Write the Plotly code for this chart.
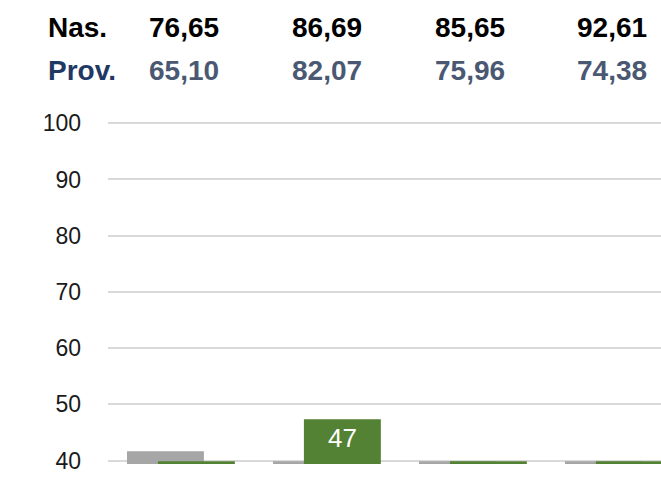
import plotly.graph_objects as go

# ---- data ----
categories = [0, 1, 2, 3]
gray_values = [41.66, 39.9, 39.9, 39.9]
green_values = [39.9, 47.35, 39.9, 39.9]
green_labels = ["", "47", "", ""]
nas_label = "Nas."
prov_label = "Prov."
nas_values = ["76,65", "86,69", "85,65", "92,61"]
prov_values = ["65,10", "82,07", "75,96", "74,38"]
y_ticks = [40, 50, 60, 70, 80, 90, 100]

# ---- layout constants ----
W, H = 661, 477
ML, MR, MT, MB = 108, 0, 121, 13
PW, PH = W - ML - MR, H - MT - MB
col_px = [184, 327, 470, 612]
row_px = [27, 71]
label_px = 46
FONT = "Liberation Sans, Arial, sans-serif"
Y_MIN, Y_MAX = 39.4, 100.4
BAR_W = 0.527
GRAY_OFF, GREEN_OFF = -0.370, -0.158


def px_x(px):
    return (px - ML) / PW


def px_y(py):
    return 1 + (MT - py) / PH


fig = go.Figure()
fig.add_trace(go.Bar(
    x=categories, y=gray_values, width=BAR_W, offset=GRAY_OFF,
    marker=dict(color="#A6A6A6", line=dict(width=0)),
    hoverinfo="skip", showlegend=False,
))
fig.add_trace(go.Bar(
    x=categories, y=green_values, width=BAR_W, offset=GREEN_OFF,
    marker=dict(color="#548235", line=dict(width=0)),
    hoverinfo="skip", showlegend=False,
))

annotations = []
# value labels inside green bars
for c, v, lab in zip(categories, green_values, green_labels):
    if lab:
        annotations.append(dict(text=lab, x=c + GREEN_OFF + BAR_W / 2, y=(40 + v) / 2 + 0.3,
                                xref="x", yref="y", xanchor="center", yanchor="middle",
                                showarrow=False, font=dict(size=26, color="white", family=FONT)))

annotations.append(dict(text=f"<b>{nas_label}</b>", x=px_x(label_px), y=px_y(row_px[0]),
                        xref="paper", yref="paper", xanchor="left", yanchor="middle",
                        showarrow=False, font=dict(size=28, color="#000000", family=FONT)))
annotations.append(dict(text=f"<b>{prov_label}</b>", x=px_x(label_px), y=px_y(row_px[1]),
                        xref="paper", yref="paper", xanchor="left", yanchor="middle",
                        showarrow=False, font=dict(size=28, color="#1F3864", family=FONT)))
for cx, nv, pv in zip(col_px, nas_values, prov_values):
    annotations.append(dict(text=f"<b>{nv}</b>", x=px_x(cx), y=px_y(row_px[0]),
                            xref="paper", yref="paper", xanchor="center", yanchor="middle",
                            showarrow=False, font=dict(size=28, color="#000000", family=FONT)))
    annotations.append(dict(text=f"<b>{pv}</b>", x=px_x(cx), y=px_y(row_px[1]),
                            xref="paper", yref="paper", xanchor="center", yanchor="middle",
                            showarrow=False, font=dict(size=28, color="#4A5872", family=FONT)))

fig.update_layout(
    width=W, height=H,
    margin=dict(l=ML, r=MR, t=MT, b=MB, pad=0),
    paper_bgcolor="white", plot_bgcolor="white",
    barmode="overlay",
    annotations=annotations,
    font=dict(family=FONT),
    xaxis=dict(range=[-0.5, 3.288], showticklabels=False, showgrid=False,
               zeroline=False, showline=False, fixedrange=True),
    yaxis=dict(range=[Y_MIN, Y_MAX], tickvals=y_ticks, showgrid=True,
               gridcolor="#D9D9D9", gridwidth=2, zeroline=False, showline=False,
               ticks="", ticklabelstandoff=26, fixedrange=True,
               tickfont=dict(size=23, color="#1A1A1A", family=FONT)),
)

fig.write_html("out.html", config={"displayModeBar": False},
               post_script="document.body.style.margin='0';document.body.style.padding='0';")
